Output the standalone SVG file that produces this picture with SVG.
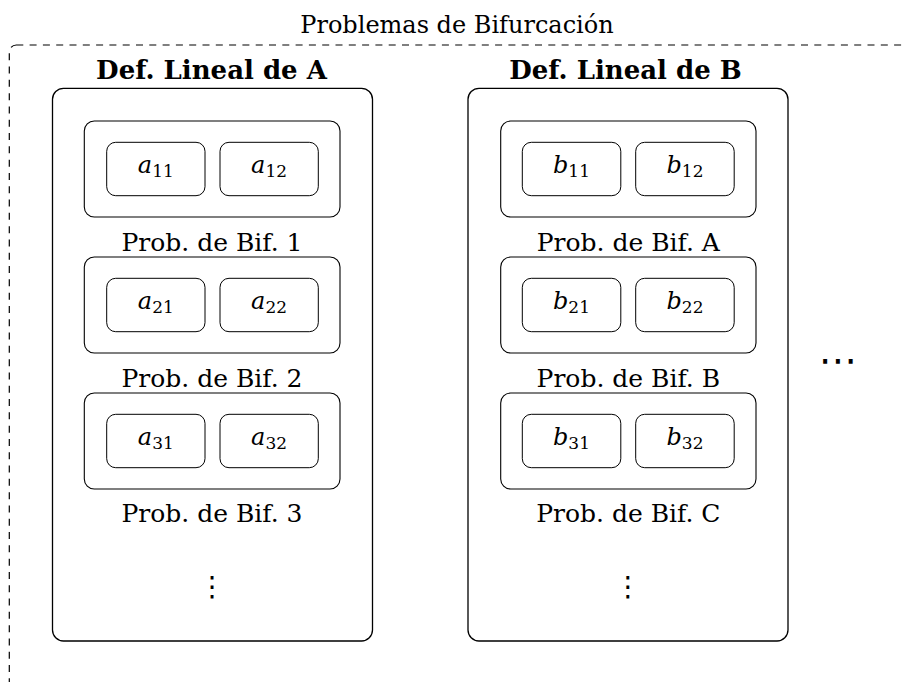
<svg xmlns="http://www.w3.org/2000/svg" width="906" height="682" viewBox="0 0 906 682">
<style>
text{font-family:"DejaVu Serif","Liberation Serif",serif;fill:#000}
.title{font-size:24px;text-anchor:middle}
.head{font-size:26px;font-weight:bold;text-anchor:middle}
.lbl{font-size:25px;text-anchor:middle}
.m{font-size:24px;text-anchor:middle}
.m .v{font-style:italic}
.m .s{font-size:17px}
.col{fill:none;stroke:#000;stroke-width:1.3}
.grp{fill:none;stroke:#000;stroke-width:1.1}
.cell{fill:none;stroke:#000;stroke-width:1}
.frame{fill:none;stroke:#000;stroke-width:1.2;stroke-dasharray:7 6.3}
.dots{font-family:"DejaVu Sans",sans-serif;font-size:28px;text-anchor:middle}
.hdots{font-family:"DejaVu Sans",sans-serif;font-size:38px;text-anchor:middle}
</style>
<rect width="906" height="682" fill="#fff"/>
<g id="frame">
<rect class="frame" x="9.3" y="45" width="1000" height="645" rx="7"/>
<text class="title" x="457" y="33">Problemas de Bifurcación</text>
</g>
<g id="connectors"/>
<g id="colA">
<rect class="col" x="52.5" y="88.3" width="320" height="552.7" rx="11"/>
<text class="head" x="211.5" y="79">Def. Lineal de A</text>
<text class="dots" x="212.3" y="596">⋮</text>
</g>
<g id="colB">
<rect class="col" x="468" y="88.3" width="320" height="552.7" rx="11"/>
<text class="head" x="625.5" y="79">Def. Lineal de B</text>
<text class="dots" x="628" y="596">⋮</text>
</g>
<g id="A1">
<rect class="grp" x="84.3" y="121" width="255.7" height="96" rx="10"/>
<text class="lbl" x="212" y="250.7">Prob. de Bif. 1</text>
</g>
<g id="a11"><rect class="cell" x="106.7" y="142.3" width="98.3" height="53.4" rx="9"/><text class="m" x="155.8" y="173.3"><tspan class="v">a</tspan><tspan class="s" dy="4">11</tspan></text></g>
<g id="a12"><rect class="cell" x="220" y="142.3" width="98.3" height="53.4" rx="9"/><text class="m" x="269.1" y="173.3"><tspan class="v">a</tspan><tspan class="s" dy="4">12</tspan></text></g>
<g id="A2">
<rect class="grp" x="84.3" y="257" width="255.7" height="96" rx="10"/>
<text class="lbl" x="212" y="386.7">Prob. de Bif. 2</text>
</g>
<g id="a21"><rect class="cell" x="106.7" y="278.3" width="98.3" height="53.4" rx="9"/><text class="m" x="155.8" y="309.3"><tspan class="v">a</tspan><tspan class="s" dy="4">21</tspan></text></g>
<g id="a22"><rect class="cell" x="220" y="278.3" width="98.3" height="53.4" rx="9"/><text class="m" x="269.1" y="309.3"><tspan class="v">a</tspan><tspan class="s" dy="4">22</tspan></text></g>
<g id="A3">
<rect class="grp" x="84.3" y="393" width="255.7" height="96" rx="10"/>
<text class="lbl" x="212" y="522">Prob. de Bif. 3</text>
</g>
<g id="a31"><rect class="cell" x="106.7" y="414.3" width="98.3" height="53.4" rx="9"/><text class="m" x="155.8" y="445.3"><tspan class="v">a</tspan><tspan class="s" dy="4">31</tspan></text></g>
<g id="a32"><rect class="cell" x="220" y="414.3" width="98.3" height="53.4" rx="9"/><text class="m" x="269.1" y="445.3"><tspan class="v">a</tspan><tspan class="s" dy="4">32</tspan></text></g>
<g id="B1">
<rect class="grp" x="500.7" y="121" width="255.3" height="96" rx="10"/>
<text class="lbl" x="628.3" y="250.7">Prob. de Bif. A</text>
</g>
<g id="b11"><rect class="cell" x="522.3" y="142.3" width="98.5" height="53.4" rx="9"/><text class="m" x="571.5" y="173.3"><tspan class="v">b</tspan><tspan class="s" dy="4">11</tspan></text></g>
<g id="b12"><rect class="cell" x="635.7" y="142.3" width="98.5" height="53.4" rx="9"/><text class="m" x="685" y="173.3"><tspan class="v">b</tspan><tspan class="s" dy="4">12</tspan></text></g>
<g id="B2">
<rect class="grp" x="500.7" y="257" width="255.3" height="96" rx="10"/>
<text class="lbl" x="628.3" y="386.7">Prob. de Bif. B</text>
</g>
<g id="b21"><rect class="cell" x="522.3" y="278.3" width="98.5" height="53.4" rx="9"/><text class="m" x="571.5" y="309.3"><tspan class="v">b</tspan><tspan class="s" dy="4">21</tspan></text></g>
<g id="b22"><rect class="cell" x="635.7" y="278.3" width="98.5" height="53.4" rx="9"/><text class="m" x="685" y="309.3"><tspan class="v">b</tspan><tspan class="s" dy="4">22</tspan></text></g>
<g id="B3">
<rect class="grp" x="500.7" y="393" width="255.3" height="96" rx="10"/>
<text class="lbl" x="628.3" y="522">Prob. de Bif. C</text>
</g>
<g id="b31"><rect class="cell" x="522.3" y="414.3" width="98.5" height="53.4" rx="9"/><text class="m" x="571.5" y="445.3"><tspan class="v">b</tspan><tspan class="s" dy="4">31</tspan></text></g>
<g id="b32"><rect class="cell" x="635.7" y="414.3" width="98.5" height="53.4" rx="9"/><text class="m" x="685" y="445.3"><tspan class="v">b</tspan><tspan class="s" dy="4">32</tspan></text></g>
<g id="more">
<text class="hdots" x="838" y="373">⋯</text>
</g>
</svg>
